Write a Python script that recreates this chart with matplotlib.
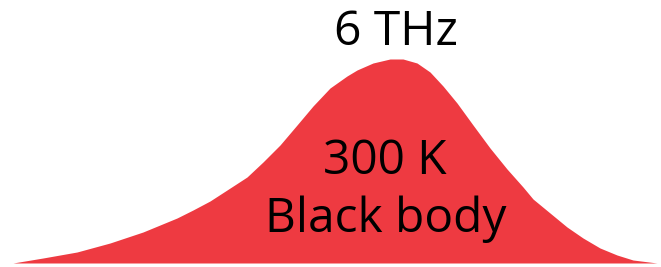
import matplotlib
matplotlib.use("Agg")
import matplotlib.pyplot as plt

# spectrum outline (position, height above baseline)
freq = [13, 43, 77, 110, 143, 177, 193, 210, 227, 247, 263, 280, 297, 313,
        330, 347, 357, 373, 390, 403, 417, 430, 443, 457, 473, 490, 507,
        523, 533, 550, 567, 583, 600, 617, 633, 657]
power = [0, 5, 11, 20, 31, 45, 53, 62, 73, 86, 101, 118, 138, 157,
         175, 187, 193, 200, 204, 204, 200, 191, 177, 160, 138, 115, 94,
         76, 64, 50, 36, 25, 15, 8, 3, 0]

peak_label = "6 THz"
body_label = ["300 K", "Black body"]

fig = plt.figure(figsize=(6.61, 2.67), dpi=100)
ax = fig.add_axes([0, 0, 1, 1])
ax.set_xlim(0, 661)
ax.set_ylim(-4, 263)
ax.axis("off")

ax.fill_between(freq, 0, power, color="#ee3a41", lw=0)

fnt = dict(family="Open Sans", fontsize=34.5, color="black", ha="center", va="baseline")
ax.text(396, 263 - 45, peak_label, **fnt)
ax.text(385, 263 - 174, body_label[0], **fnt)
ax.text(386, 263 - 232, body_label[1], **fnt)

fig.savefig("out.png", dpi=100)
